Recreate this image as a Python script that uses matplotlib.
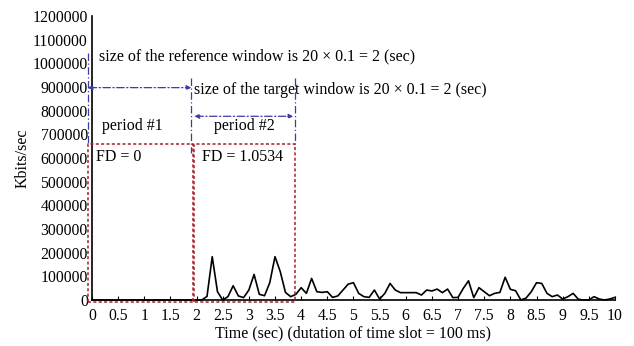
import numpy as np
import matplotlib.pyplot as plt

plt.rcParams['font.family'] = ['Liberation Serif', 'DejaVu Serif']

## traffic per 100 ms time slot (Kbits/sec) ##
time_sec = np.round(np.arange(0, 10.01, 0.1), 1)
rate_kbits = [0]*22 + [
    15000, 183000, 35000, 0, 14000, 60000, 17000, 10000, 42000, 108000,
    24000, 18000, 73000, 183000, 120000, 32000, 14000, 24000,
    52000, 28000, 91000, 35000, 32000, 35000, 11000, 17000, 42000, 67000,
    73000, 28000, 14000, 11000, 42000, 4000, 28000, 70000, 42000, 31000,
    31000, 31000, 31000, 21000, 42000, 38000, 46000, 31000, 46000, 10000,
    11000, 49000, 81000, 10000, 52000, 35000, 18000, 28000, 32000, 96000,
    45000, 39000, 0, 8000, 35000, 73000, 70000, 28000, 14000, 21000,
    4000, 14000, 28000, 3000, 0, 0, 14000, 4000, 0, 4000, 11000]

## window boundaries (sec) and annotation levels ##
ref_start, ref_end, tgt_end = -0.08, 1.93, 3.88
box_top = 661000
fd_labels = ['FD = 0', 'FD = 1.0534']
period_labels = ['period #1', 'period #2']

red = '#a3202a'
blue = '#3b3ba6'
fs = 11.5

fig = plt.figure(figsize=(6.34, 3.46), dpi=100)
ax = fig.add_axes([0.145, 0.133, 0.825, 0.821])
ax.plot(time_sec, rate_kbits, color='black', linewidth=1.2, clip_on=False, zorder=3)

ax.set_xlim(0, 10)
ax.set_ylim(0, 1200000)
ax.set_xticks(np.arange(0, 10.01, 0.5))
ax.set_xticklabels(['%g' % t for t in np.arange(0, 10.01, 0.5)])
ax.set_yticks(np.arange(0, 1200001, 100000))
ax.set_yticklabels([str(v) for v in range(0, 1200001, 100000)])
ax.tick_params(direction='in', labelsize=11.3, length=3, pad=6)
ax.tick_params(axis='y', length=0, pad=3)
ax.spines['top'].set_visible(False)
ax.spines['right'].set_visible(False)
ax.spines['left'].set_linewidth(1.2)
ax.spines['bottom'].set_linewidth(1.2)
ax.set_xlabel('Time (sec) (dutation of time slot = 100 ms)', fontsize=fs, labelpad=1)
ax.set_ylabel('Kbits/sec', fontsize=fs, labelpad=1)

# red dotted boxes around the two periods
for x0, x1 in [(ref_start, ref_end), (ref_end + 0.03, tgt_end)]:
    ax.plot([x0, x0, x1, x1], [-8000, box_top, box_top, -8000], color=red,
            linestyle=(0, (2, 1.5)), linewidth=1.1, clip_on=False, zorder=4)
ax.plot([ref_start, tgt_end], [-8000, -8000], color=red,
        linestyle=(0, (2, 1.5)), linewidth=1.1, clip_on=False, zorder=4)

# blue dash-dot window markers
dd = (0, (6, 2, 1, 2))
ax.plot([ref_start + 0.01, ref_start + 0.01], [1042000, box_top], color=blue,
        linestyle=dd, linewidth=0.9, clip_on=False)
ax.plot([ref_end - 0.03, ref_end - 0.03], [938000, 620000], color=blue,
        linestyle=dd, linewidth=0.9)
ax.plot([tgt_end, tgt_end], [938000, box_top], color=blue, linestyle=dd, linewidth=0.9)
for x0, x1, yy in [(ref_start, ref_end - 0.03, 897000), (ref_end + 0.03, tgt_end - 0.03, 776000)]:
    ax.annotate('', xy=(x1, yy), xytext=(x0, yy),
                arrowprops=dict(arrowstyle='<|-|>', color=blue, linestyle=dd,
                                linewidth=0.9, mutation_scale=7,
                                shrinkA=0, shrinkB=0), annotation_clip=False)

ax.text(0.14, 1027000, 'size of the reference window is 20 \u00d7 0.1 = 2 (sec)',
        fontsize=fs, va='center', ha='left')
ax.text(1.96, 886000, 'size of the target window is 20 \u00d7 0.1 = 2 (sec)',
        fontsize=fs, va='center', ha='left')
ax.text(0.77, 734000, period_labels[0], fontsize=fs, va='center', ha='center')
ax.text(2.92, 734000, period_labels[1], fontsize=fs, va='center', ha='center')
ax.text(0.08, 605000, fd_labels[0], fontsize=fs, va='center', ha='left')
ax.text(2.1, 605000, fd_labels[1], fontsize=fs, va='center', ha='left')

fig.savefig('out.png', dpi=100)
